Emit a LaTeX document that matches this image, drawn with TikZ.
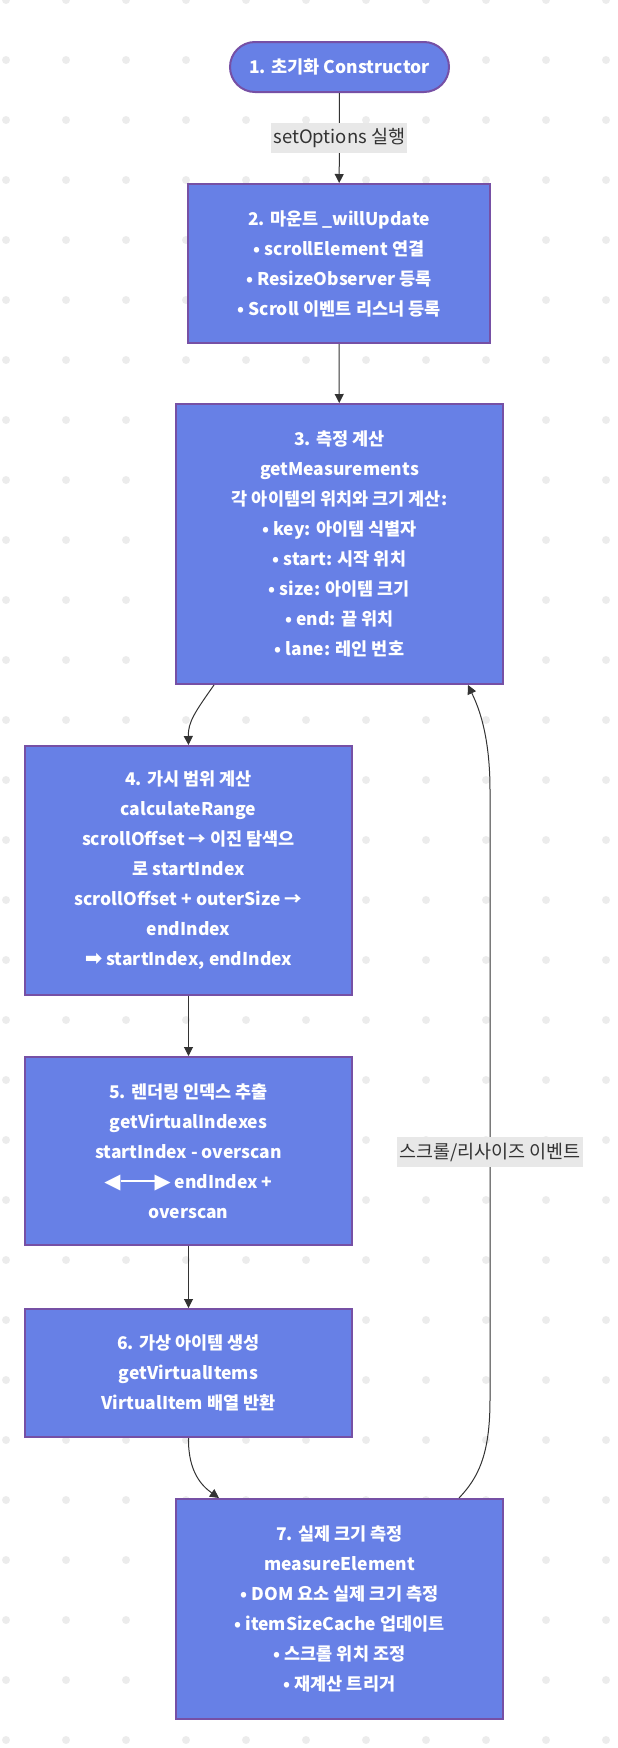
\documentclass[tikz,border=0pt]{standalone}
\usepackage{fontspec}
\setmainfont{Noto Sans CJK KR}
\newfontfamily\symfont{DejaVu Sans}
\usetikzlibrary{positioning,arrows.meta}
\definecolor{stepblue}{RGB}{103,128,230}
\definecolor{steppurple}{RGB}{118,80,165}
\definecolor{linegray}{RGB}{51,51,51}
\definecolor{dotgray}{RGB}{236,236,236}
\definecolor{lblgray}{RGB}{232,232,232}
\newcommand{\twoway}{{\symfont\fontsize{21}{21}\selectfont ◀}\raisebox{6.4pt}{\rule{34pt}{1.8pt}}{\symfont\fontsize{21}{21}\selectfont ▶}}
\newcommand{\fatarrow}{{\symfont\fontsize{21}{21}\selectfont ➡}}

\begin{document}
\begin{tikzpicture}[x=1pt,y=1pt,
    stepbox/.style={draw=steppurple, line width=2pt, fill=stepblue, text=white, align=center,
      font=\fontsize{17.5}{30}\selectfont\bfseries, inner sep=0pt},
    startbox/.style={stepbox, rounded corners=25pt},
    flow/.style={draw=linegray, line width=1pt, -{Triangle[length=9pt,width=9pt]}},
    edgelbl/.style={fill=lblgray, text=linegray, font=\fontsize{18.5}{20}\selectfont,
      inner xsep=2pt, inner ysep=0pt, minimum height=30pt}]
    \useasboundingbox (0,0) rectangle (618,-1748);

    % Background dots
    \foreach \i in {0,...,10}
      \foreach \j in {0,...,29}
        \fill[dotgray] (6+60*\i,-60*\j) circle (4pt);

    % Steps
    \node[startbox, minimum width=219pt, minimum height=50pt] (n1) at (339.5,-67) {1. 초기화 Constructor};
    \node[stepbox, minimum width=302pt, minimum height=159pt] (n2) at (339,-263.5)
      {2. 마운트 \_willUpdate\\ • scrollElement 연결\\ • ResizeObserver 등록\\ • Scroll 이벤트 리스너 등록};
    \node[stepbox, minimum width=327pt, minimum height=280pt] (n3) at (339.5,-544)
      {3. 측정 계산\\ getMeasurements\\ 각 아이템의 위치와 크기 계산:\\ • key: 아이템 식별자\\ • start: 시작 위치\\ • size: 아이템 크기\\ • end: 끝 위치\\ • lane: 레인 번호};
    \node[stepbox, minimum width=327pt, minimum height=249pt] (n4) at (188.5,-870.5)
      {4. 가시 범위 계산\\ calculateRange\\ scrollOffset → 이진 탐색으\\ 로 startIndex\\ scrollOffset + outerSize →\\ endIndex\\ \fatarrow{} startIndex, endIndex};
    \node[stepbox, minimum width=327pt, minimum height=188pt] (n5) at (188.5,-1151)
      {5. 렌더링 인덱스 추출\\ getVirtualIndexes\\ startIndex - overscan\\ \twoway{} endIndex +\\ overscan};
    \node[stepbox, minimum width=327pt, minimum height=128pt] (n6) at (188.5,-1373)
      {6. 가상 아이템 생성\\ getVirtualItems\\ VirtualItem 배열 반환};
    \node[stepbox, minimum width=327pt, minimum height=220pt] (n7) at (339.5,-1609)
      {7. 실제 크기 측정\\ measureElement\\ • DOM 요소 실제 크기 측정\\ • itemSizeCache 업데이트\\ • 스크롤 위치 조정\\ • 재계산 트리거};

    % Connectors
    \draw[flow] (n1) -- node[edgelbl] {setOptions 실행} (n2);
    \draw[flow] (n2) -- (n3);
    \draw[flow] ([xshift=39pt]n3.south west) .. controls (195,-712) and (188,-722) .. (n4.north);
    \draw[flow] (n4) -- (n5);
    \draw[flow] (n5) -- (n6);
    \draw[flow] (n6.south) .. controls (188,-1472) and (202,-1486) .. ([xshift=44pt]n7.north west);
    \draw[flow] ([xshift=-45pt]n7.north east) .. controls (478,-1478) and (490,-1455) .. (490,-1400)
      -- node[edgelbl, pos=0.406] {스크롤/리사이즈 이벤트} (490,-790)
      .. controls (490,-730) and (476,-702) .. ([xshift=-36pt]n3.south east);
\end{tikzpicture}
\end{document}
